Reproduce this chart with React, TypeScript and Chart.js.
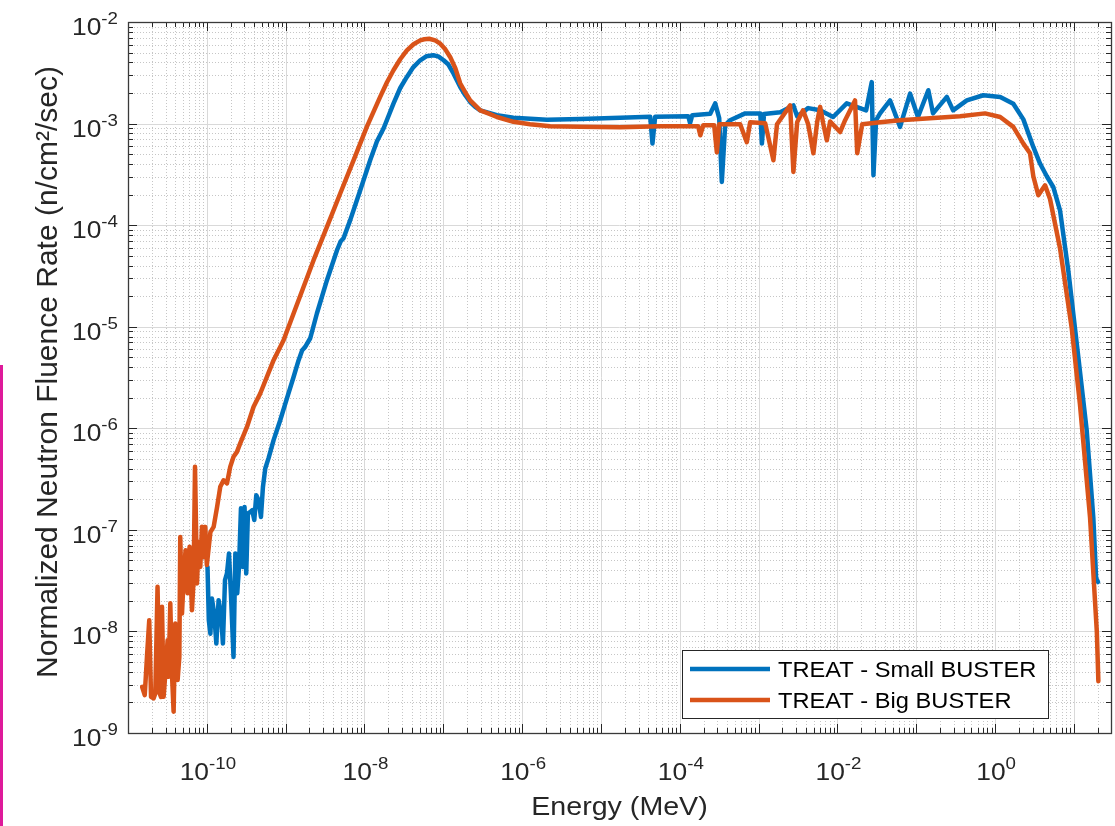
import { useEffect, useRef } from "react";
import { Chart, registerables } from "chart.js";

Chart.register(...registerables);

// ---------- data ----------
const SMALL_ENERGY = [
  1.02e-10, 1.06e-10, 1.11e-10, 1.16e-10, 1.24e-10, 1.32e-10, 1.41e-10, 1.51e-10, 1.6e-10, 1.7e-10,
  1.8e-10, 1.91e-10, 2.02e-10, 2.18e-10, 2.3e-10, 2.43e-10, 2.56e-10, 2.71e-10, 2.87e-10, 3.01e-10,
  3.16e-10, 3.32e-10, 3.56e-10, 3.77e-10, 4.0e-10, 4.24e-10, 4.53e-10, 4.86e-10, 5.15e-10, 5.51e-10,
  6.07e-10, 7.03e-10, 8.53e-10, 1.04e-9, 1.26e-9, 1.46e-9, 1.62e-9, 1.77e-9, 2.05e-9, 2.49e-9,
  3.34e-9, 4.48e-9, 5.0e-9, 5.42e-9, 6.59e-9, 8.83e-9, 1.18e-8, 1.44e-8, 1.75e-8, 2.33e-8,
  2.84e-8, 3.45e-8, 4.15e-8, 5.09e-8, 6.07e-8, 7.45e-8, 8.61e-8, 1.01e-7, 1.15e-7, 1.35e-7,
  1.64e-7, 1.9e-7, 2.19e-7, 2.54e-7, 2.94e-7, 4.79e-7, 7.76e-7,
  2.06e-6, 5.46e-6, 1.75e-5, 4.21e-5, 4.5e-5, 4.87e-5, 1.28e-4, 1.35e-4, 1.44e-4, 2.43e-4,
  2.81e-4, 3.16e-4, 3.41e-4, 3.76e-4, 4.35e-4, 6.75e-4, 1.05e-3, 1.1e-3, 1.17e-3, 1.88e-3,
  2.76e-3, 3.08e-3, 4.25e-3, 6.03e-3, 8.81e-3, 1.31e-2, 2.31e-2, 2.72e-2, 2.86e-2, 3.09e-2,
  3.47e-2, 4.65e-2, 6.22e-2, 8.34e-2, 0.105, 0.142, 0.163, 0.244, 0.293, 0.437,
  0.708, 1.16, 1.7, 2.28, 3.05, 3.71, 4.52, 5.48, 6.65, 8.49,
  11.4, 14.5, 17.6, 19.1, 20.2,
];
const SMALL_FLUX = [
  4.32e-8, 1.29e-8, 9.5e-9, 2.11e-8, 1.5e-8, 7.6e-9, 2.03e-8, 1.5e-8, 7.6e-9, 3.2e-8,
  3.72e-8, 5.86e-8, 2.37e-8, 5.6e-9, 5.86e-8, 2.37e-8, 4.32e-8, 1.63e-7, 4.32e-8, 1.68e-7,
  3.72e-8, 1.45e-7, 1.5e-7, 1.56e-7, 1.25e-7, 2.19e-7, 1.96e-7, 1.34e-7, 2.65e-7, 4.02e-7,
  5.08e-7, 7.64e-7, 1.2e-6, 1.98e-6, 3.2e-6, 4.68e-6, 5.87e-6, 6.33e-6, 7.7e-6, 1.35e-5,
  2.87e-5, 5.66e-5, 6.95e-5, 7.43e-5, 1.12e-4, 2.21e-4, 4.35e-4, 6.7e-4, 9.0e-4, 1.57e-3,
  2.24e-3, 2.88e-3, 3.58e-3, 4.2e-3, 4.59e-3, 4.7e-3, 4.59e-3, 4.2e-3, 3.84e-3, 3.1e-3,
  2.29e-3, 1.9e-3, 1.63e-3, 1.46e-3, 1.35e-3, 1.21e-3, 1.14e-3,
  1.09e-3, 1.11e-3, 1.14e-3, 1.17e-3, 6.35e-4, 1.17e-3, 1.18e-3, 1.01e-3, 1.21e-3, 1.25e-3,
  1.58e-3, 1.13e-3, 2.66e-4, 9.6e-4, 1.08e-3, 1.26e-3, 1.26e-3, 6.35e-4, 1.24e-3, 1.29e-3,
  1.51e-3, 1.18e-3, 1.42e-3, 1.35e-3, 1.16e-3, 1.58e-3, 1.35e-3, 2.56e-3, 3.1e-4, 1.08e-3,
  1.26e-3, 1.69e-3, 9.27e-4, 1.97e-3, 1.16e-3, 2.13e-3, 1.26e-3, 1.83e-3, 1.35e-3, 1.69e-3,
  1.9e-3, 1.83e-3, 1.57e-3, 1.1e-3, 5.89e-4, 4.04e-4, 3.03e-4, 2.36e-4, 1.4e-4, 3.53e-5,
  4.9e-6, 9.57e-7, 1.32e-7, 3.35e-8, 3.06e-8,
];
const BIG_ENERGY = [
  1.51e-11, 1.63e-11, 1.74e-11, 1.86e-11, 1.96e-11, 2.11e-11, 2.22e-11, 2.37e-11, 2.52e-11, 2.62e-11,
  2.7e-11, 2.83e-11, 3.0e-11, 3.18e-11, 3.27e-11, 3.44e-11, 3.61e-11, 3.79e-11, 3.98e-11, 4.26e-11,
  4.48e-11, 4.6e-11, 4.84e-11, 5.07e-11, 5.37e-11, 5.7e-11, 6.04e-11, 6.48e-11, 6.79e-11, 7.08e-11,
  7.5e-11, 7.86e-11, 8.26e-11, 8.68e-11, 9.1e-11, 9.55e-11, 1.0e-10, 1.11e-10, 1.22e-10, 1.35e-10,
  1.48e-10, 1.63e-10, 1.8e-10, 1.98e-10, 2.18e-10, 2.41e-10, 2.65e-10, 3.23e-10, 3.92e-10, 4.76e-10,
  7.03e-10, 9.4e-10, 1.26e-9, 1.69e-9, 2.26e-9, 3.34e-9, 4.92e-9, 7.26e-9, 1.07e-8, 1.58e-8,
  1.93e-8, 2.33e-8, 2.84e-8, 3.45e-8, 4.19e-8, 5.09e-8, 5.73e-8, 6.62e-8, 7.89e-8, 9.14e-8,
  1.06e-7, 1.22e-7, 1.42e-7, 1.64e-7, 1.9e-7, 2.19e-7, 2.54e-7, 2.94e-7, 3.71e-7, 4.79e-7,
  7.76e-7, 1.26e-6, 2.27e-6, 5.46e-6, 1.75e-5, 5.64e-5, 1.71e-4, 1.82e-4, 1.98e-4, 2.73e-4,
  2.95e-4, 3.16e-4, 5.83e-4, 7.08e-4, 7.8e-4, 1.21e-3, 1.54e-3, 1.71e-3, 2.51e-3, 2.76e-3,
  3.08e-3, 3.66e-3, 4.25e-3, 4.95e-3, 5.52e-3, 6.03e-3, 6.58e-3, 7.33e-3, 8.07e-3, 1.08e-2,
  1.25e-2, 1.67e-2, 1.78e-2, 2.06e-2, 3.47e-2, 6.22e-2, 0.149, 0.359, 0.745, 1.16,
  1.7, 2.28, 2.77, 3.05, 3.53, 4.3, 4.97, 6.65, 9.37, 11.9, 16.0, 19.5, 20.4,
];
const BIG_FLUX = [
  2.85e-9, 2.36e-9, 5.6e-9, 1.29e-8, 2.27e-9, 2.19e-9, 2.45e-9, 2.75e-8, 2.45e-9, 2.27e-9,
  1.75e-8, 2.27e-9, 4.16e-9, 8.2e-9, 3.57e-9, 1.89e-8, 3.86e-9, 1.62e-9, 1.2e-8, 3.32e-9,
  5.6e-9, 8.5e-8, 1.5e-8, 3.2e-8, 6.3e-8, 2.37e-8, 6.8e-8, 1.62e-8, 3.2e-8, 4.17e-7,
  2.97e-8, 7.6e-8, 4.32e-8, 1.07e-7, 5.4e-8, 1.07e-7, 4.5e-8, 9.5e-8, 1.07e-7, 1.68e-7,
  2.65e-7, 3.08e-7, 2.86e-7, 4.17e-7, 5.24e-7, 5.86e-7, 7.1e-7, 1.03e-6, 1.63e-6, 2.2e-6,
  4.68e-6, 7.36e-6, 1.35e-5, 2.47e-5, 4.52e-5, 9.6e-5, 2.05e-4, 4.35e-4, 9.27e-4, 1.83e-3,
  2.55e-3, 3.35e-3, 4.3e-3, 5.26e-3, 6.04e-3, 6.6e-3, 6.76e-3, 6.84e-3, 6.6e-3, 6.12e-3,
  5.38e-3, 4.53e-3, 3.5e-3, 2.48e-3, 2.03e-3, 1.69e-3, 1.51e-3, 1.35e-3, 1.26e-3, 1.16e-3,
  1.04e-3, 9.85e-4, 9.4e-4, 9.3e-4, 9.2e-4, 9.4e-4, 9.4e-4, 7.67e-4, 9.6e-4, 9.6e-4,
  5.22e-4, 9.85e-4, 9.85e-4, 6.55e-4, 1.03e-3, 1.01e-3, 4.35e-4, 9.85e-4, 1.51e-3, 3.34e-4,
  1.03e-3, 1.35e-3, 9.85e-4, 5.1e-4, 1.03e-3, 1.46e-3, 1.01e-3, 6.85e-4, 1.05e-3, 8.26e-4,
  1.08e-3, 1.69e-3, 5.1e-4, 9.85e-4, 1.03e-3, 1.08e-3, 1.13e-3, 1.18e-3, 1.26e-3, 1.16e-3,
  9.27e-4, 6.35e-4, 5.1e-4, 3.03e-4, 1.97e-4, 2.47e-4, 1.81e-4, 5.93e-5, 9.66e-6, 1.73e-6, 1.32e-7, 9.95e-9, 3.24e-9,
];

const SERIES_LABELS = ["TREAT - Small BUSTER", "TREAT - Big BUSTER"];
const X_TICK_EXPONENTS = [-10, -8, -6, -4, -2, 0];
const Y_TICK_EXPONENTS = [-9, -8, -7, -6, -5, -4, -3, -2];
const X_RANGE = [1e-11, 29.5];
const Y_RANGE = [1e-9, 1e-2];
const X_TITLE = "Energy (MeV)";
const Y_TITLE = "Normalized Neutron Fluence Rate (n/cm\u00B2/sec)";

// ---------- styles ----------
const BLUE = "#0072BD";
const ORANGE = "#D95319";
const INK = "#262626";
const FONT = '"Liberation Sans", Arial, Helvetica, sans-serif';
const SX = 1.1; // horizontal text stretch seen in the reference

type GV = { v: number; major: boolean };
function gridValues(min: number, max: number): GV[] {
  const out: GV[] = [];
  const e0 = Math.floor(Math.log10(min));
  const e1 = Math.ceil(Math.log10(max));
  for (let e = e0; e <= e1; e++) {
    for (let k = 1; k <= 9; k++) {
      const v = k * Math.pow(10, e);
      if (v >= min * 0.9999 && v <= max * 1.0001) out.push({ v, major: k === 1 });
    }
  }
  return out;
}

function textW(ctx: CanvasRenderingContext2D, t: string, font: string) {
  ctx.font = font;
  return ctx.measureText(t).width * SX;
}

function fillStretched(ctx: CanvasRenderingContext2D, t: string, x: number, y: number, font: string) {
  ctx.save();
  ctx.font = font;
  ctx.translate(x, y);
  ctx.scale(SX, 1);
  ctx.textAlign = "left";
  ctx.textBaseline = "alphabetic";
  ctx.fillText(t, 0, 0);
  ctx.restore();
}

const BASE_FONT = `24px ${FONT}`;
const SUP_FONT = `17px ${FONT}`;
const SUP_RAISE = 11;

function drawPower(ctx: CanvasRenderingContext2D, exp: number, x: number, baseline: number, anchor: "center" | "right") {
  const base = "10";
  const sup = String(exp);
  const wb = textW(ctx, base, BASE_FONT);
  const ws = textW(ctx, sup, SUP_FONT);
  const total = wb + ws;
  const start = anchor === "center" ? x - total / 2 : x - total;
  fillStretched(ctx, base, start, baseline, BASE_FONT);
  fillStretched(ctx, sup, start + wb, baseline - SUP_RAISE, SUP_FONT);
}

const matlabAxes = {
  id: "matlabAxes",
  beforeDatasetsDraw(chart: any) {
    const { ctx, chartArea: a } = chart;
    const xs = chart.scales.x;
    const ys = chart.scales.y;
    const xv = gridValues(xs.min, xs.max);
    const yv = gridValues(ys.min, ys.max);
    ctx.save();
    ctx.lineWidth = 1;
    ctx.setLineDash([1, 2]);
    ctx.strokeStyle = "#c6c6c6";
    ctx.beginPath();
    for (const g of xv) {
      if (g.major) continue;
      const p = Math.round(xs.getPixelForValue(g.v)) + 0.5;
      ctx.moveTo(p, a.top);
      ctx.lineTo(p, a.bottom);
    }
    for (const g of yv) {
      if (g.major) continue;
      const p = Math.round(ys.getPixelForValue(g.v)) + 0.5;
      ctx.moveTo(a.left, p);
      ctx.lineTo(a.right, p);
    }
    ctx.stroke();
    ctx.setLineDash([]);
    ctx.strokeStyle = "#d9d9d9";
    ctx.beginPath();
    for (const g of xv) {
      if (!g.major) continue;
      const p = Math.round(xs.getPixelForValue(g.v)) + 0.5;
      ctx.moveTo(p, a.top);
      ctx.lineTo(p, a.bottom);
    }
    for (const g of yv) {
      if (!g.major) continue;
      const p = Math.round(ys.getPixelForValue(g.v)) + 0.5;
      ctx.moveTo(a.left, p);
      ctx.lineTo(a.right, p);
    }
    ctx.stroke();
    ctx.restore();
  },
  afterDatasetsDraw(chart: any) {
    const { ctx, chartArea: a } = chart;
    const xs = chart.scales.x;
    const ys = chart.scales.y;
    const xv = gridValues(xs.min, xs.max);
    const yv = gridValues(ys.min, ys.max);
    ctx.save();
    ctx.strokeStyle = INK;
    ctx.lineWidth = 1;
    ctx.beginPath();
    for (const g of xv) {
      const p = Math.round(xs.getPixelForValue(g.v)) + 0.5;
      const len = g.major ? 9 : 5;
      ctx.moveTo(p, a.bottom);
      ctx.lineTo(p, a.bottom - len);
      ctx.moveTo(p, a.top);
      ctx.lineTo(p, a.top + len);
    }
    for (const g of yv) {
      const p = Math.round(ys.getPixelForValue(g.v)) + 0.5;
      const len = g.major ? 9 : 5;
      ctx.moveTo(a.left, p);
      ctx.lineTo(a.left + len, p);
      ctx.moveTo(a.right, p);
      ctx.lineTo(a.right - len, p);
    }
    ctx.stroke();
    ctx.lineWidth = 1.3;
    ctx.strokeStyle = "#3a3a3a";
    ctx.strokeRect(Math.round(a.left) + 0.5, Math.round(a.top) + 0.5, Math.round(a.right - a.left), Math.round(a.bottom - a.top));

    // legend box
    const lx = 682.5, ly = 650.5, lw = 366, lh = 68;
    ctx.fillStyle = "#ffffff";
    ctx.fillRect(lx, ly, lw, lh);
    ctx.lineWidth = 1;
    ctx.strokeStyle = INK;
    ctx.strokeRect(lx, ly, lw, lh);
    const rows = [
      { label: SERIES_LABELS[0], color: BLUE, y: 669 },
      { label: SERIES_LABELS[1], color: ORANGE, y: 700 },
    ];
    for (const r of rows) {
      ctx.strokeStyle = r.color;
      ctx.lineWidth = 4.5;
      ctx.beginPath();
      ctx.moveTo(690, r.y);
      ctx.lineTo(770, r.y);
      ctx.stroke();
      ctx.fillStyle = "#000000";
      fillStretched(ctx, r.label, 778, r.y + 8, `21.5px ${FONT}`);
    }
    ctx.restore();
  },
  afterDraw(chart: any) {
    const { ctx, chartArea: a } = chart;
    const xs = chart.scales.x;
    const ys = chart.scales.y;
    ctx.save();
    ctx.fillStyle = INK;
    for (const e of X_TICK_EXPONENTS) {
      const p = xs.getPixelForValue(Math.pow(10, e));
      drawPower(ctx, e, p + 1, a.bottom + 47, "center");
    }
    for (const e of Y_TICK_EXPONENTS) {
      const p = ys.getPixelForValue(Math.pow(10, e));
      drawPower(ctx, e, 118, p + 13, "right");
    }
    const tf = `26px ${FONT}`;
    const tw = textW(ctx, X_TITLE, tf);
    fillStretched(ctx, X_TITLE, (a.left + a.right) / 2 - tw / 2, 815, tf);
    ctx.save();
    ctx.translate(57, 372);
    ctx.rotate(-Math.PI / 2);
    ctx.font = `30px ${FONT}`;
    ctx.textAlign = "center";
    ctx.textBaseline = "alphabetic";
    ctx.fillText(Y_TITLE, 0, 0);
    ctx.restore();
    ctx.restore();
  },
};

export default function App() {
  const ref = useRef<HTMLCanvasElement | null>(null);
  useEffect(() => {
    const canvas = ref.current;
    if (!canvas) return;
    const common = {
      showLine: true,
      pointRadius: 0,
      borderWidth: 4.5,
      borderJoinStyle: "round",
      borderCapStyle: "round",
    };
    const chart = new Chart(canvas, {
      type: "scatter",
      data: {
        datasets: [
          {
            ...common,
            label: SERIES_LABELS[0],
            data: SMALL_ENERGY.map((x, i) => ({ x, y: SMALL_FLUX[i] })),
            borderColor: BLUE,
            backgroundColor: BLUE,
            order: 2,
          },
          {
            ...common,
            label: SERIES_LABELS[1],
            data: BIG_ENERGY.map((x, i) => ({ x, y: BIG_FLUX[i] })),
            borderColor: ORANGE,
            backgroundColor: ORANGE,
            order: 1,
          },
        ],
      } as any,
      options: {
        animation: false,
        responsive: false,
        maintainAspectRatio: false,
        devicePixelRatio: 1,
        events: [],
        layout: { padding: { left: 128, right: 4, top: 22, bottom: 93 } },
        scales: {
          x: { type: "logarithmic", min: X_RANGE[0], max: X_RANGE[1], display: false },
          y: { type: "logarithmic", min: Y_RANGE[0], max: Y_RANGE[1], display: false },
        },
        plugins: { legend: { display: false }, tooltip: { enabled: false } },
      } as any,
      plugins: [matlabAxes as any],
    });
    return () => chart.destroy();
  }, []);

  return (
    <div style={{ position: "absolute", left: 0, top: 0, width: 1115, height: 826, background: "#ffffff", overflow: "hidden" }}>
      <canvas ref={ref} width={1115} height={826} style={{ display: "block", width: 1115, height: 826 }} />
      <div style={{ position: "absolute", left: 0, top: 365, width: 3, height: 461, background: "#DE1A9A" }} />
    </div>
  );
}
